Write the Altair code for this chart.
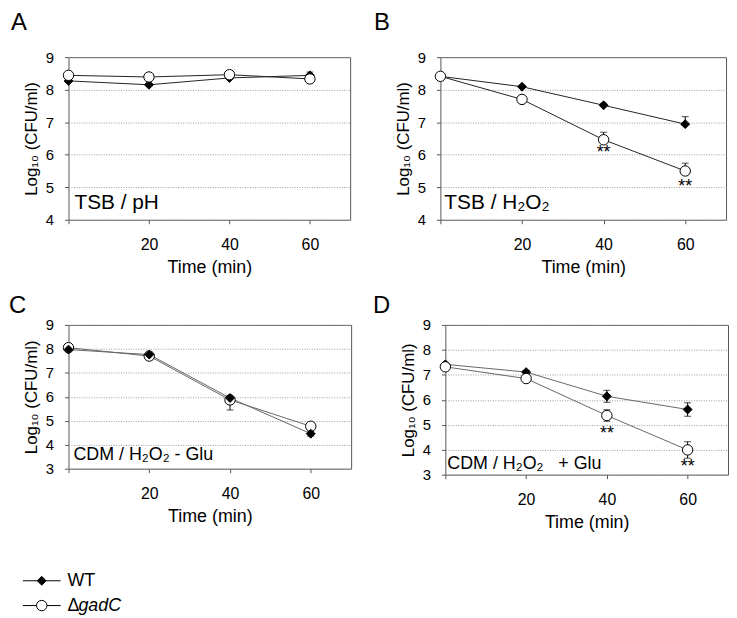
import altair as alt
import pandas as pd

FONT = "Liberation Sans"

times = [0, 20, 40, 60]
series_names = ["WT", "ΔgadC"]

# Panel A  (TSB / pH)
a_wt = [8.27, 8.15, 8.36, 8.44]
a_wt_lo = [8.24, 8.12, 8.33, 8.36]
a_wt_hi = [8.30, 8.18, 8.39, 8.54]
a_ko = [8.44, 8.39, 8.46, 8.33]
a_ko_lo = [8.42, 8.37, 8.42, 8.30]
a_ko_hi = [8.46, 8.41, 8.52, 8.36]

# Panel B  (TSB / H2O2)
b_wt = [8.41, 8.09, 7.52, 6.94]
b_wt_lo = [8.41, 8.09, 7.52, 6.94]
b_wt_hi = [8.43, 8.13, 7.58, 7.17]
b_ko = [8.41, 7.70, 6.46, 5.50]
b_ko_lo = [8.41, 7.70, 6.46, 5.50]
b_ko_hi = [8.43, 7.74, 6.69, 5.74]
b_star_t = [40, 60]
b_star_y = [6.18, 5.12]

# Panel C  (CDM / H2O2 - Glu)
c_wt = [7.97, 7.76, 5.95, 4.46]
c_wt_lo = [7.94, 7.72, 5.90, 4.36]
c_wt_hi = [8.00, 7.80, 6.00, 4.56]
c_ko = [8.05, 7.70, 5.87, 4.77]
c_ko_lo = [8.02, 7.66, 5.45, 4.70]
c_ko_hi = [8.08, 7.74, 5.87, 4.86]

# Panel D  (CDM / H2O2 + Glu)
d_wt = [7.42, 7.11, 6.14, 5.61]
d_wt_lo = [7.39, 7.06, 5.90, 5.34]
d_wt_hi = [7.45, 7.16, 6.38, 5.88]
d_ko = [7.32, 6.85, 5.37, 3.99]
d_ko_lo = [7.27, 6.80, 5.14, 3.66]
d_ko_hi = [7.37, 6.90, 5.60, 4.32]
d_star_t = [40, 60]
d_star_y = [4.80, 3.46]

legend_main = ["WT", "Δ"]
legend_ital = ["", "gadC"]

shape_enc = alt.Shape("series:N", scale=alt.Scale(domain=series_names, range=["diamond", "circle"]), legend=None)
fill_enc = alt.Fill("series:N", scale=alt.Scale(domain=series_names, range=["black", "white"]), legend=None)
size_enc = alt.Size("series:N", scale=alt.Scale(type="ordinal", domain=series_names, range=[80, 110]), legend=None)


def text_layer(txt, x, y, size, style="normal", align="left", baseline="alphabetic"):
    return (
        alt.Chart(pd.DataFrame({"t": [txt]}))
        .mark_text(fontSize=size, font=FONT, fontStyle=style, align=align, baseline=baseline, color="black")
        .encode(x=alt.value(x), y=alt.value(y), text="t:N")
    )


def legend_layers():
    out = []
    for i, s in enumerate(series_names):
        ydf = pd.DataFrame({"series": [s], "main": [legend_main[i]], "ital": [legend_ital[i]]})
        yy = 258 + 25 * i
        b = alt.Chart(ydf)
        out.append(b.mark_rule(color="black", strokeWidth=1).encode(
            x=alt.value(-46), x2=alt.value(-8), y=alt.value(yy)))
        out.append(b.mark_point(filled=True, stroke="black", strokeWidth=1, opacity=1).encode(
            x=alt.value(-27), y=alt.value(yy), shape=shape_enc, fill=fill_enc, size=size_enc))
        out.append(b.mark_text(fontSize=18, font=FONT, align="left", baseline="middle", color="black").encode(
            x=alt.value(-1), y=alt.value(yy), text="main:N"))
        if legend_ital[i]:
            out.append(b.mark_text(fontSize=18, font=FONT, fontStyle="italic", align="left",
                                   baseline="middle", color="black").encode(
                x=alt.value(10), y=alt.value(yy), text="ital:N"))
    return out


def make_panel(wt, wt_lo, wt_hi, ko, ko_lo, ko_hi, ydom, w, h, letter, lxy,
               label, txy, tsize, line_color, ko_on_top, star_t=None, star_y=None, extra=None):
    df = pd.DataFrame({
        "time": times * 2,
        "value": wt + ko,
        "lo": wt_lo + ko_lo,
        "hi": wt_hi + ko_hi,
        "series": ["WT"] * 4 + ["ΔgadC"] * 4,
    })
    x_enc = alt.X("time:Q", scale=alt.Scale(domain=[0, 70], nice=False),
                  axis=alt.Axis(values=times, labelExpr="datum.value == 0 ? '' : datum.label",
                                title="Time (min)", grid=False))

    def y_enc(field):
        return alt.Y(f"{field}:Q", scale=alt.Scale(domain=ydom, nice=False, zero=False),
                     axis=alt.Axis(values=list(range(ydom[0], ydom[1] + 1)),
                                   title="Log₁₀ (CFU/ml)", grid=True))

    base = alt.Chart(df)
    lines = base.mark_line(color=line_color, strokeWidth=1).encode(x=x_enc, y=y_enc("value"), detail="series:N")
    rules = base.mark_rule(color="black", strokeWidth=1).encode(x=x_enc, y=y_enc("lo"), y2=alt.Y2("hi:Q"))
    tlo = base.mark_tick(orient="horizontal", size=7, thickness=1, color="black").encode(x=x_enc, y=y_enc("lo"))
    thi = base.mark_tick(orient="horizontal", size=7, thickness=1, color="black").encode(x=x_enc, y=y_enc("hi"))
    order = ["WT", "ΔgadC"] if ko_on_top else ["ΔgadC", "WT"]
    pts = [
        base.transform_filter(alt.datum.series == s)
        .mark_point(filled=True, stroke="black", strokeWidth=1, opacity=1)
        .encode(x=x_enc, y=y_enc("value"), shape=shape_enc, fill=fill_enc, size=size_enc)
        for s in order
    ]
    layers = [lines, rules, tlo, thi] + pts
    if star_t:
        sdf = pd.DataFrame({"time": star_t, "sy": star_y, "t": ["**"] * len(star_t)})
        layers.append(
            alt.Chart(sdf).mark_text(fontSize=18, font=FONT, baseline="alphabetic", dy=9, color="black")
            .encode(x=x_enc, y=y_enc("sy"), text="t:N")
        )
    layers.append(text_layer(letter, lxy[0], lxy[1], 24))
    layers.append(text_layer(label, txy[0], txy[1], tsize))
    if extra:
        layers += extra
    return alt.layer(*layers).properties(width=w, height=h)


pA = make_panel(a_wt, a_wt_lo, a_wt_hi, a_ko, a_ko_lo, a_ko_hi, [4, 9], 284, 164,
                "A", (-58, -27), "TSB / pH", (6, 153), 21, "#222", True)
pB = make_panel(b_wt, b_wt_lo, b_wt_hi, b_ko, b_ko_lo, b_ko_hi, [4, 9], 288, 164,
                "B", (-67, -27), "TSB / H₂O₂", (4, 153), 21, "#222", True, b_star_t, b_star_y)
pC = make_panel(c_wt, c_wt_lo, c_wt_hi, c_ko, c_ko_lo, c_ko_hi, [3, 9], 285, 145,
                "C", (-60, -12), "CDM / H₂O₂ - Glu", (5, 136), 18, "#666", False,
                extra=legend_layers())
pD = make_panel(d_wt, d_wt_lo, d_wt_hi, d_ko, d_ko_lo, d_ko_hi, [3, 9], 285, 151,
                "D", (-73, -12), "CDM / H₂O₂\u00a0\u00a0 + Glu", (2, 145), 18, "#666", True,
                d_star_t, d_star_y)

row1 = alt.hconcat(pA, pB, spacing=22)
row2 = alt.hconcat(pC, pD, spacing=20)

chart = (
    alt.vconcat(row1, row2, spacing=16)
    .properties(padding=0)
    .configure_axis(labelFont=FONT, titleFont=FONT, titleFontWeight="normal",
                    labelColor="black", titleColor="black",
                    domain=False, tickColor="#555", tickSize=4, gridColor="#999",
                    gridDash=[1, 1.5], gridWidth=1)
    .configure_axisX(labelFontSize=16, titleFontSize=18, labelPadding=13, titlePadding=6)
    .configure_axisY(labelFontSize=15, titleFontSize=17, labelPadding=11, titlePadding=5)
    .configure_view(stroke="#555", strokeWidth=1)
)

chart.save("out.html", embed_options={"renderer": "svg", "actions": False})
